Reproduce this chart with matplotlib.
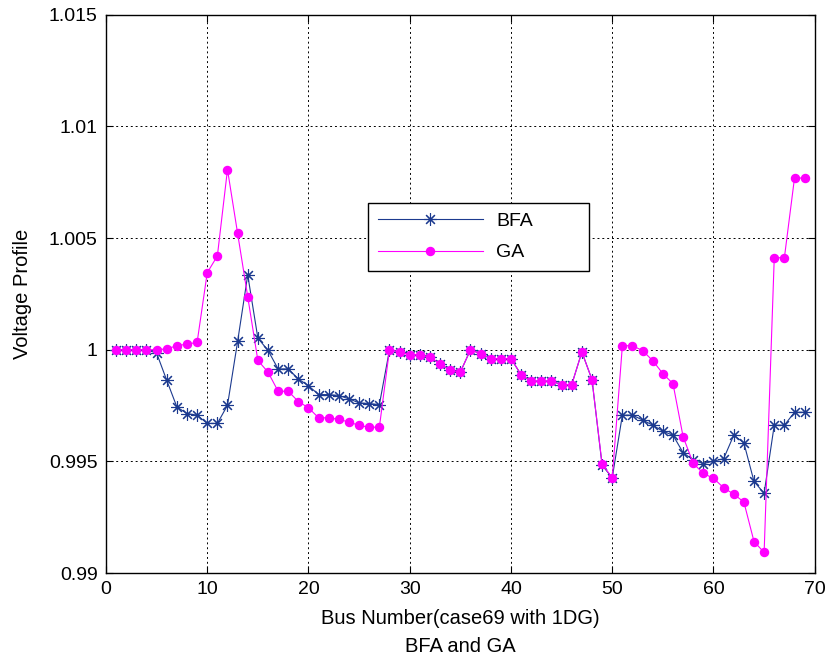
import matplotlib
matplotlib.use("Agg")
import matplotlib.pyplot as plt
import numpy as np

plt.rcParams['font.family'] = ['Liberation Sans', 'DejaVu Sans']

bus = list(range(1, 70))

bfa = [1.0, 1.0, 1.0, 1.0, 0.99985, 0.99863, 0.99744, 0.99714, 0.99707, 0.9967,
       0.9967, 0.99751, 1.00037, 1.00335, 1.00052, 0.99997, 0.99914, 0.99914, 0.99869, 0.99839,
       0.99799, 0.99799, 0.99795, 0.9978, 0.99762, 0.99759, 0.99754, 1.0, 0.9999, 0.99978,
       0.99978, 0.99967, 0.99937, 0.99908, 0.999, 1.0, 0.99982, 0.9996, 0.9996, 0.9996,
       0.99888, 0.99859, 0.99859, 0.99859, 0.99844, 0.99844, 0.9999, 0.99866, 0.99482, 0.99427,
       0.99707, 0.99707, 0.99685, 0.99662, 0.99635, 0.99617, 0.99539, 0.99506, 0.9949, 0.99501,
       0.99512, 0.99617, 0.99583, 0.9941, 0.99357, 0.99662, 0.99662, 0.9972, 0.9972]

ga = [1.0, 1.0, 1.0, 1.0, 1.0, 1.00004, 1.00018, 1.00025, 1.00033, 1.00345,
      1.0042, 1.00807, 1.00521, 1.00237, 0.99952, 0.999, 0.99814, 0.99814, 0.99768, 0.9974,
      0.99695, 0.99695, 0.99688, 0.99676, 0.99661, 0.99653, 0.99653, 1.0, 0.9999, 0.99978,
      0.99978, 0.99967, 0.99937, 0.99908, 0.999, 1.0, 0.99982, 0.9996, 0.9996, 0.9996,
      0.99888, 0.99859, 0.99859, 0.99859, 0.99844, 0.99844, 0.9999, 0.99866, 0.99487, 0.99427,
      1.00018, 1.00018, 0.99996, 0.99951, 0.99893, 0.99848, 0.9961, 0.99491, 0.99446, 0.99424,
      0.99382, 0.99353, 0.99318, 0.99141, 0.99092, 1.00412, 1.00412, 1.00769, 1.00769]

blue = '#1c3a8f'
pink = '#ff00ff'

fig = plt.figure(figsize=(8.28, 6.59), dpi=100)
# axes box: left 106px, right 815px, top 15px, bottom 573px
ax = fig.add_axes([0.128, 0.1305, 0.856, 0.847])

ax.plot(bus, bfa, color=blue, linewidth=0.8, marker=(8, 2, 0), markersize=9,
        markeredgewidth=0.8, label='BFA')
ax.plot(bus, ga, color=pink, linewidth=0.8, marker='o', markersize=5.8,
        markeredgecolor=pink, label='GA', zorder=3)

ax.set_xlim(0, 70)
ax.set_ylim(0.99, 1.015)
ax.set_xticks(np.arange(0, 71, 10))
ax.set_yticks([0.99, 0.995, 1.0, 1.005, 1.01, 1.015])
ax.set_yticklabels(['0.99', '0.995', '1', '1.005', '1.01', '1.015'])
ax.tick_params(direction='in', top=True, right=True, labelsize=14, length=5, pad=6)
ax.grid(True, color='black', linestyle=(0, (2, 3)), linewidth=0.7)
for s in ax.spines.values():
    s.set_linewidth(1.0)

ax.set_xlabel('Bus Number(case69 with 1DG)\nBFA and GA', fontsize=14.5,
              labelpad=8, linespacing=1.55)
ax.set_ylabel('Voltage Profile', fontsize=14.5, labelpad=12)

leg = ax.legend(loc='upper left', bbox_to_anchor=(0.3695, 0.539, 0.3117, 0.124),
                mode='expand', fontsize=14, fancybox=False, edgecolor='black',
                framealpha=1, handlelength=5.4, borderpad=0.5, labelspacing=0.7,
                handletextpad=0.7, borderaxespad=0)
leg.get_frame().set_linewidth(1.0)

fig.savefig('out.png', dpi=100)
